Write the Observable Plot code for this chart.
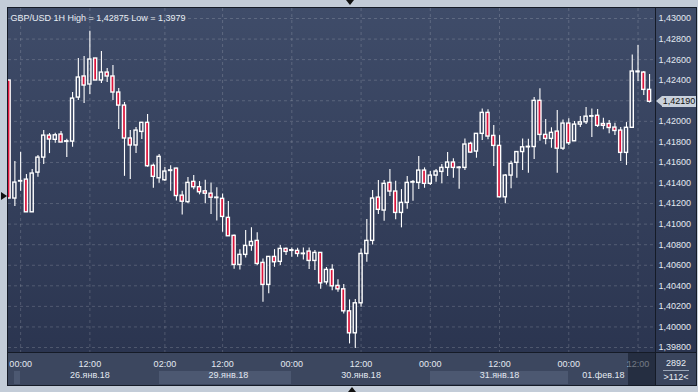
<!DOCTYPE html>
<html><head><meta charset="utf-8">
<script src="https://cdn.jsdelivr.net/npm/d3@7"></script>
<script src="https://cdn.jsdelivr.net/npm/@observablehq/plot@0.6"></script>
<style>
body{margin:0;background:#c3ccd8;}
#wrap{position:relative;width:698px;height:392px;overflow:hidden;background:#c3ccd8;font-family:"Liberation Sans",Arial,sans-serif;}
.abs{position:absolute;}
#wrap svg{position:absolute;left:0;top:0;}
</style></head><body><div id="wrap">
<div class="abs" style="left:7px;top:7px;width:690px;height:379px;background:#151b27"></div>
<div class="abs" style="left:8px;top:8px;width:647px;height:344px;background:linear-gradient(#3f4c69,#2b3550)"></div>
<div class="abs" style="left:656px;top:8px;width:40px;height:344px;background:linear-gradient(#3e4b68,#2b3550)"></div>
<div class="abs" style="left:8px;top:353px;width:647px;height:32px;background:#3c475f"></div>
<div class="abs" style="left:656px;top:353px;width:40px;height:32px;background:#3a455d"></div>
</div>
<script>
// ---- data ----
const openP  = [1.42397,1.41249,1.41414,1.41433,1.41115,1.41501,1.41647,1.41861,1.41820,1.41871,1.41800,1.41803,1.42231,1.42436,1.42358,1.42611,1.42397,1.42474,1.42436,1.42280,1.42153,1.41833,1.41765,1.41897,1.41985,1.41567,1.41446,1.41427,1.41517,1.41540,1.41277,1.41214,1.41411,1.41359,1.41319,1.41296,1.41253,1.41246,1.41061,1.40886,1.40603,1.40701,1.40788,1.40837,1.40623,1.40409,1.40681,1.40633,1.40759,1.40740,1.40740,1.40713,1.40733,1.40642,1.40720,1.40434,1.40555,1.40399,1.40366,1.40152,1.39938,1.40230,1.40710,1.40837,1.41258,1.41132,1.41401,1.41317,1.41109,1.41207,1.41404,1.41401,1.41521,1.41392,1.41472,1.41508,1.41547,1.41599,1.41545,1.41547,1.41781,1.41706,1.41878,1.42082,1.41858,1.41761,1.41261,1.41472,1.41596,1.41701,1.41747,1.41750,1.42199,1.41868,1.41829,1.41900,1.41734,1.41978,1.41806,1.41968,1.41991,1.42045,1.42054,1.41974,1.41974,1.41939,1.41910,1.41693,1.41937,1.42477,1.42474,1.42306];
const highP  = [1.42397,1.41609,1.41699,1.41482,1.41531,1.41667,1.41910,1.41881,1.41884,1.41900,1.41825,1.42280,1.42611,1.42630,1.42875,1.42611,1.42679,1.42513,1.42543,1.42319,1.42183,1.41910,1.41939,1.41985,1.42066,1.41586,1.41677,1.41550,1.41567,1.41543,1.41319,1.41453,1.41473,1.41414,1.41426,1.41401,1.41354,1.41294,1.41219,1.40895,1.40752,1.40937,1.40964,1.40915,1.40662,1.40681,1.40752,1.40791,1.40769,1.40769,1.40765,1.40769,1.40769,1.40743,1.40720,1.40577,1.40606,1.40458,1.40412,1.40263,1.40266,1.40759,1.41044,1.41326,1.41424,1.41424,1.41531,1.41417,1.41336,1.41463,1.41424,1.41657,1.41547,1.41511,1.41531,1.41579,1.41696,1.41635,1.41560,1.41829,1.41797,1.41878,1.42121,1.42112,1.41959,1.41861,1.41482,1.41611,1.41703,1.41829,1.41825,1.42231,1.42316,1.42017,1.41937,1.42105,1.42014,1.42024,1.41998,1.42048,1.42134,1.42121,1.42114,1.42030,1.42007,1.41981,1.41939,1.41988,1.42645,1.42737,1.42484,1.42455];
const lowP   = [1.41249,1.41171,1.41320,1.41115,1.41115,1.41456,1.41579,1.41686,1.41787,1.41794,1.41647,1.41748,1.42202,1.42173,1.42260,1.42397,1.42368,1.42377,1.42202,1.41920,1.41465,1.41433,1.41686,1.41823,1.41553,1.41349,1.41397,1.41414,1.41320,1.41224,1.41088,1.41199,1.41335,1.41285,1.41199,1.41094,1.41030,1.40921,1.40882,1.40561,1.40555,1.40671,1.40736,1.40594,1.40240,1.40324,1.40580,1.40597,1.40694,1.40677,1.40677,1.40652,1.40558,1.40548,1.40366,1.40409,1.40353,1.40337,1.40127,1.39835,1.39790,1.40191,1.40629,1.40798,1.41093,1.41028,1.41268,1.41042,1.40964,1.41145,1.41222,1.41336,1.41349,1.41375,1.41407,1.41392,1.41463,1.41446,1.41339,1.41521,1.41689,1.41641,1.41813,1.41820,1.41560,1.41255,1.41197,1.41343,1.41446,1.41521,1.41495,1.41628,1.41806,1.41771,1.41738,1.41495,1.41716,1.41765,1.41806,1.41939,1.41968,1.41842,1.41939,1.41917,1.41878,1.41861,1.41610,1.41571,1.41937,1.42387,1.42251,1.42178];
const closeP = [1.41249,1.41404,1.41419,1.41115,1.41492,1.41647,1.41861,1.41823,1.41864,1.41794,1.41806,1.42221,1.42426,1.42348,1.42601,1.42397,1.42474,1.42436,1.42280,1.42153,1.41833,1.41765,1.41910,1.41985,1.41563,1.41460,1.41654,1.41511,1.41523,1.41273,1.41218,1.41401,1.41359,1.41310,1.41296,1.41257,1.41258,1.41070,1.40882,1.40603,1.40701,1.40788,1.40827,1.40613,1.40409,1.40681,1.40629,1.40759,1.40730,1.40746,1.40710,1.40708,1.40642,1.40720,1.40424,1.40555,1.40395,1.40366,1.40152,1.39938,1.40230,1.40710,1.40837,1.41249,1.41139,1.41392,1.41317,1.41109,1.41207,1.41401,1.41409,1.41521,1.41392,1.41472,1.41511,1.41547,1.41599,1.41547,1.41550,1.41774,1.41696,1.41878,1.42082,1.41852,1.41761,1.41261,1.41472,1.41586,1.41701,1.41747,1.41752,1.42199,1.41868,1.41829,1.41888,1.41734,1.41978,1.41787,1.41968,1.41990,1.42045,1.42050,1.41956,1.41956,1.41935,1.41906,1.41693,1.41937,1.42484,1.42484,1.42306,1.42190];

const priceTicks = [1.398,1.400,1.402,1.404,1.406,1.408,1.410,1.412,1.414,1.416,1.418,1.420,1.424,1.426,1.428,1.430];
const gridPrices = [1.398,1.400,1.402,1.404,1.406,1.408,1.410,1.412,1.414,1.416,1.418,1.420,1.422,1.424,1.426,1.428,1.430];
const timeTickIdx = [2,14,27,37,49,61,73,85,97,109];
const timeLabels = ["00:00","12:00","02:00","12:00","00:00","12:00","00:00","12:00","00:00","12:00"];
const dateLabelIdx = [14,38,61,85,103];
const dateLabels = ["26.янв.18","29.янв.18","30.янв.18","31.янв.18","01.фев.18"];
const dayBandStart = [1,26,73];
const dayBandEnd   = [2,49,97];
const titleText = "GBP/USD 1H High = 1,42875 Low = 1,3979";
const lastPrice = 1.42190;

const candles = openP.map((o,i)=>({i, open:o, high:highP[i], low:lowP[i], close:closeP[i]}));
const up = candles.filter(d=>d.close>=d.open);
const down = candles.filter(d=>d.close<d.open);
const fmt = v => v.toFixed(5).replace(".", ",");
const HW = 0.27;

const chart = Plot.plot({
  width: 698, height: 392,
  marginLeft: 8, marginRight: 43, marginTop: 8, marginBottom: 40,
  style: {background: "transparent", color: "#e3e9f1", fontSize: "9px", fontFamily: "Liberation Sans, Arial, sans-serif", overflow: "visible"},
  x: {domain: [-0.104, 112.03], axis: null},
  y: {domain: [1.397514, 1.430973], axis: "right", ticks: priceTicks, tickFormat: fmt, tickSize: 0, tickPadding: 3, label: null},
  marks: [
    Plot.ruleY(gridPrices, {stroke: "#ffffff", strokeOpacity: 0.17, strokeDasharray: "3,3"}),
    Plot.ruleX(timeTickIdx, {stroke: "#ffffff", strokeOpacity: 0.17, strokeDasharray: "3,3"}),
    Plot.ruleX(candles, {x: "i", y1: "high", y2: d=>Math.max(d.open,d.close), stroke: "#ffffff", strokeWidth: 1.1, clip: true}),
    Plot.ruleX(candles, {x: "i", y1: "low", y2: d=>Math.min(d.open,d.close), stroke: "#ffffff", strokeWidth: 1.1, clip: true}),
    Plot.rect(up, {x1: d=>d.i-HW, x2: d=>d.i+HW, y1: "open", y2: "close", fill: "none", stroke: "#ffffff", strokeWidth: 1.4, clip: true}),
    Plot.rect(down, {x1: d=>d.i-HW, x2: d=>d.i+HW, y1: "open", y2: "close", fill: "#dc143c", stroke: "#ffffff", strokeWidth: 1.4, clip: true}),
    Plot.text(timeTickIdx, {x: d=>d, text: (d,k)=>timeLabels[k], frameAnchor: "bottom", dy: 14.5, fill: "#e3e9f1"}),
    Plot.text(dateLabelIdx, {x: d=>d, text: (d,k)=>dateLabels[k], frameAnchor: "bottom", dy: 25, fill: "#e3e9f1"}),
    Plot.text([titleText], {frameAnchor: "top-left", text: d=>d, dx: 2, dy: 6.4, textAnchor: "start", fill: "#e8edf3"})
  ]
});

const wrap = document.getElementById("wrap");
const xs = chart.scale("x"), ys = chart.scale("y");
// day bands in the date row (placed through the x scale)
dayBandStart.forEach((s,k)=>{
  const b = document.createElement("div");
  b.className = "abs";
  const x1 = Math.max(8, xs.apply(s)), x2 = Math.min(655, xs.apply(dayBandEnd[k]));
  b.style.cssText = `left:${x1}px;top:371px;width:${x2-x1}px;height:13px;background:#4c5871;`;
  wrap.appendChild(b);
});
wrap.appendChild(chart);

// cursor box over the last time label
const cur = document.createElement("div");
cur.className = "abs";
cur.style.cssText = "left:628px;top:353px;width:27px;height:32px;background:rgba(18,25,40,0.55);";
wrap.appendChild(cur);

// current price tag
const yp = ys.apply(lastPrice);
const tag = document.createElement("div");
tag.className = "abs";
tag.style.cssText = `left:662px;top:${yp-5.5}px;width:34px;height:11px;background:#c9d1dc;color:#111;font-size:9px;line-height:11px;text-align:center;`;
tag.textContent = fmt(lastPrice);
wrap.appendChild(tag);
const tip = document.createElement("div");
tip.className = "abs";
tip.style.cssText = `left:656px;top:${yp-5.5}px;width:0;height:0;border-top:5.5px solid transparent;border-bottom:5.5px solid transparent;border-right:6px solid #c9d1dc;`;
wrap.appendChild(tip);

// bottom-right counter box
const cnt = document.createElement("div");
cnt.className = "abs";
cnt.style.cssText = "left:656px;top:358px;width:40px;color:#e8edf3;font-size:9px;line-height:11px;text-align:center;";
cnt.innerHTML = "2892<div style='margin:1px 7px 1px 7px;border-top:1px solid #9aa5b6;height:0'></div>&gt;" + candles.length + "&lt;";
wrap.appendChild(cnt);

// small frame markers
const mk = (css)=>{const d=document.createElement("div");d.className="abs";d.style.cssText=css;wrap.appendChild(d);};
mk("left:1px;top:192px;width:0;height:0;border-top:4.5px solid transparent;border-bottom:4.5px solid transparent;border-left:6px solid #111;");
mk("left:346px;top:0px;width:0;height:0;border-left:4.5px solid transparent;border-right:4.5px solid transparent;border-top:5px solid #111;");
mk("left:348px;top:387px;width:0;height:0;border-left:4.5px solid transparent;border-right:4.5px solid transparent;border-bottom:5px solid #111;");
</script>
</body></html>
